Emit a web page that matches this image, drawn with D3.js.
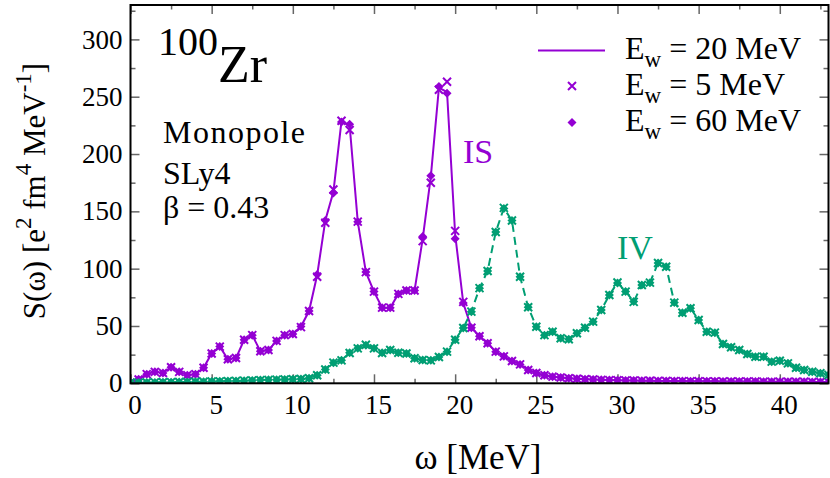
<!doctype html>
<html lang="en">
<head>
<meta charset="utf-8">
<title>100Zr monopole strength</title>
<script src="https://d3js.org/d3.v7.min.js"></script>
<style>
body { margin: 0; background: #fff; }
svg text { font-family: "Liberation Serif", "Times New Roman", serif; }
</style>
</head>
<body>
<svg width="830" height="478"></svg>
<script>
// energy grid (MeV), one sample every 0.5 MeV
var omega = d3.range(0, 43.01, 0.5);

// isoscalar strength, three smearing widths
var isEw20 = [0.5, 3.5, 8, 10, 9, 14, 10, 7, 8, 13.5,
  26, 32, 21, 22, 38, 42, 28, 29, 37, 42,
  43, 49.5, 63, 94.5, 142, 167, 229, 225, 141, 97,
  80, 66, 66, 78, 81, 81, 126, 180, 258, 254,
  130, 70, 48.5, 41, 35, 27.6, 23.5, 19.5, 16.5, 11.6,
  9, 7, 5.8, 5, 4.4, 4, 3.6, 3.3, 3, 2.8,
  2.6, 2.5, 2.4, 2.3, 2.2, 2.1, 2, 1.9, 1.9, 1.8,
  1.8, 1.7, 1.7, 1.6, 1.6, 1.5, 1.5, 1.5, 1.4, 1.4,
  1.4, 1.3, 1.3, 1.3, 1.2, 1.2, 1.2];
var isEw5 = [0.5, 3.3, 8, 10, 9, 14, 10, 7, 8, 13.5,
  26, 32, 21, 22, 38, 42, 28, 29, 37, 42,
  43, 49, 63, 93, 140, 169, 229, 221, 141, 97,
  80, 66, 66, 78, 81, 81, 124, 175, 256, 263,
  133, 71, 48.5, 41, 35, 27.6, 23.5, 19.5, 16.5, 11.6,
  9, 7, 5.8, 5, 4.4, 4, 3.6, 3.3, 3, 2.8,
  2.6, 2.5, 2.4, 2.3, 2.2, 2.1, 2, 1.9, 1.9, 1.8,
  1.8, 1.7, 1.7, 1.6, 1.6, 1.5, 1.5, 1.5, 1.4, 1.4,
  1.4, 1.3, 1.3, 1.3, 1.2, 1.2, 1.2];
var isEw60 = [0.5, 3.5, 8, 10, 9, 14, 10, 7, 8, 13.5,
  26, 32, 21, 22, 38, 42, 28, 29, 37, 42,
  43, 49.5, 63, 95, 142, 166, 228, 226, 141, 97,
  80, 66, 66, 78, 81, 81, 128, 181, 259, 253,
  126, 70, 48.5, 41, 35, 27.6, 23.5, 19.5, 16.5, 11.6,
  9, 7, 5.8, 5, 4.4, 4, 3.6, 3.3, 3, 2.8,
  2.6, 2.5, 2.4, 2.3, 2.2, 2.1, 2, 1.9, 1.9, 1.8,
  1.8, 1.7, 1.7, 1.6, 1.6, 1.5, 1.5, 1.5, 1.4, 1.4,
  1.4, 1.3, 1.3, 1.3, 1.2, 1.2, 1.2];

// isovector strength, three smearing widths
var ivEw20 = [0.5, 0.6, 0.7, 0.8, 0.9, 1, 1.1, 1.2, 1.3, 1.4,
  1.6, 1.7, 1.9, 2.1, 2.3, 2.5, 2.8, 3, 3.2, 3.3,
  3.5, 3.8, 4.4, 7, 12, 18, 20, 26.7, 30.5, 33.4,
  30.5, 26.7, 29, 26.7, 26, 21.8, 20.3, 20, 23, 27.6,
  38, 48.3, 62.5, 83, 98, 132, 152.7, 142, 93, 66.3,
  49.4, 42, 45, 39.3, 38.4, 43.6, 48.5, 53.8, 64, 77,
  87.8, 80, 71.2, 85.8, 87.8, 105, 101.7, 70.4, 61.6, 65.4,
  55.2, 45, 44.2, 34.3, 31.4, 29, 25.6, 23.2, 23.2, 18.9,
  19.7, 17.4, 13.6, 11.6, 10.1, 8.7, 7.2];
var ivEw5 = [0.5, 0.6, 0.7, 0.8, 0.9, 1, 1.1, 1.2, 1.3, 1.4,
  1.6, 1.7, 1.9, 2.1, 2.3, 2.5, 2.8, 3, 3.2, 3.3,
  3.5, 3.8, 4.4, 7, 12, 18, 20, 26.5, 30.5, 33.6,
  30.5, 26.5, 29, 26.7, 26, 21.8, 20.3, 20, 23, 27.6,
  38, 48.3, 62.5, 83, 98, 132, 153, 142, 93, 66.3,
  49.4, 42, 45, 39.3, 38.4, 43.6, 48.5, 53.8, 64, 77,
  88, 80, 71, 85.8, 87.8, 105, 101.7, 70.4, 61.6, 65.4,
  55.2, 45, 44.2, 34.3, 31.4, 29, 25.6, 23.2, 23.2, 18.9,
  19.7, 17.4, 13.6, 11.6, 10.1, 8.7, 7.2];
var ivEw60 = [0.5, 0.6, 0.7, 0.8, 0.9, 1, 1.1, 1.2, 1.3, 1.4,
  1.6, 1.7, 1.9, 2.1, 2.3, 2.5, 2.8, 3, 3.2, 3.3,
  3.5, 3.8, 4.4, 7, 12, 18, 20, 26.7, 30.5, 33.2,
  30.5, 26.7, 29, 26.7, 26, 21.8, 20.3, 20, 23, 27.6,
  38, 48.3, 62.5, 83, 98, 132, 152.4, 142, 93, 66.3,
  49.4, 42, 45, 39.3, 38.4, 43.6, 48.5, 53.8, 64, 77,
  87.6, 80, 71.4, 85.8, 87.8, 105, 101.7, 70.4, 61.6, 65.4,
  55.2, 45, 44.2, 34.3, 31.4, 29, 25.6, 23.2, 23.2, 18.9,
  19.7, 17.4, 13.6, 11.6, 10.1, 8.7, 7.2];

var xTicks = [0, 5, 10, 15, 20, 25, 30, 35, 40];
var xMinor = [2.5, 7.5, 12.5, 17.5, 22.5, 27.5, 32.5, 37.5, 42.5];
var yTicks = [0, 50, 100, 150, 200, 250, 300];
var yMinor = [25, 75, 125, 175, 225, 275, 325];
var legendLabels = ['20', '5', '60'];

var purple = '#9400d3', green = '#009e73';
var serif = '"Liberation Serif", "Times New Roman", serif';

var svg = d3.select('svg').style('font-family', serif);
var x = d3.scaleLinear().domain([0, 43]).range([130.5, 828.5]);
var y = d3.scaleLinear().domain([0, 330]).range([383.3, 5]);

svg.append('defs').append('clipPath').attr('id', 'clip')
  .append('rect').attr('x', 130.5).attr('y', 5).attr('width', 698).attr('height', 378.3);

// ticks (gnuplot style, inward and mirrored)
function tickAxis(axis, tr) {
  var g = svg.append('g').attr('transform', tr).call(axis)
    .attr('font-family', null).attr('font-size', null);
  g.select('.domain').remove();
  g.selectAll('.tick line').attr('stroke', '#666').attr('stroke-width', 1.5);
  g.selectAll('text').style('font-family', serif).attr('font-size', 27).attr('fill', '#000');
  return g;
}
var bx = tickAxis(d3.axisBottom(x).tickValues(xTicks).tickSize(-9).tickPadding(12), 'translate(0,383.3)');
bx.selectAll('text').attr('dx', 4);
tickAxis(d3.axisBottom(x).tickValues(xMinor).tickSize(-4.5).tickFormat(''), 'translate(0,383.3)');
tickAxis(d3.axisTop(x).tickValues(xTicks).tickSize(-9).tickFormat(''), 'translate(0,5)');
tickAxis(d3.axisTop(x).tickValues(xMinor).tickSize(-4.5).tickFormat(''), 'translate(0,5)');
tickAxis(d3.axisLeft(y).tickValues(yTicks).tickSize(-9).tickPadding(8), 'translate(130.5,0)');
tickAxis(d3.axisLeft(y).tickValues(yMinor).tickSize(-5).tickFormat(''), 'translate(130.5,0)');
tickAxis(d3.axisRight(y).tickValues(yTicks).tickSize(-9).tickFormat(''), 'translate(828.5,0)');
tickAxis(d3.axisRight(y).tickValues(yMinor).tickSize(-5).tickFormat(''), 'translate(828.5,0)');

var plot = svg.append('g').attr('clip-path', 'url(#clip)');

var crossPath = 'M-4,-4L4,4M4,-4L-4,4';
var diamondPath = 'M0,-4.5L4.5,0L0,4.5L-4.5,0Z';

function drawSet(line, cross, diamond, color, dash) {
  var pts = function(arr) { return arr.map(function(v, i) { return [omega[i], v]; }); };
  plot.append('path')
    .datum(pts(line))
    .attr('fill', 'none')
    .attr('stroke', color)
    .attr('stroke-width', 2)
    .attr('stroke-dasharray', dash)
    .attr('d', d3.line().x(function(d) { return x(d[0]); }).y(function(d) { return y(d[1]); }));
  plot.append('g').selectAll('path')
    .data(pts(cross)).enter().append('path')
    .attr('transform', function(d) { return 'translate(' + x(d[0]) + ',' + y(d[1]) + ')'; })
    .attr('d', crossPath)
    .attr('stroke', color).attr('stroke-width', 2).attr('fill', 'none');
  plot.append('g').selectAll('path')
    .data(pts(diamond)).enter().append('path')
    .attr('transform', function(d) { return 'translate(' + x(d[0]) + ',' + y(d[1]) + ')'; })
    .attr('d', diamondPath)
    .attr('fill', color);
}
drawSet(isEw20, isEw5, isEw60, purple, null);
drawSet(ivEw20, ivEw5, ivEw60, green, '8,5');

// frame
svg.append('rect')
  .attr('x', 130.5).attr('y', 5).attr('width', 698).attr('height', 378.3)
  .attr('fill', 'none').attr('stroke', '#000').attr('stroke-width', 2);

function label(xp, yp, size) {
  return svg.append('text').attr('x', xp).attr('y', yp)
    .style('font-family', serif).attr('font-size', size);
}

// axis titles
label(478, 469, 35).attr('text-anchor', 'middle').text('ω [MeV]');

var yl = svg.append('text').attr('transform', 'translate(45,191) rotate(-90)')
  .style('font-family', serif).attr('text-anchor', 'middle').attr('font-size', 31);
yl.append('tspan').text('S(ω) [e');
yl.append('tspan').attr('dy', -14).attr('font-size', 23).text('2');
yl.append('tspan').attr('dy', 14).text(' fm');
yl.append('tspan').attr('dy', -14).attr('font-size', 23).text('4');
yl.append('tspan').attr('dy', 14).text(' MeV');
yl.append('tspan').attr('dy', -14).attr('font-size', 23).text('-1');
yl.append('tspan').attr('dy', 14).text(']');

// nucleus and labels
var nuc = label(158, 82, 52);
nuc.append('tspan').attr('font-size', 40).attr('dy', -27).text('100');
nuc.append('tspan').attr('font-size', 52).attr('dy', 27).text('Zr');

label(163, 143, 32).attr('textLength', 142).attr('lengthAdjust', 'spacing').text('Monopole');
label(163, 184, 32).text('SLy4');
label(163, 218, 32).text('β = 0.43');

label(463, 163, 34).style('fill', purple).text('IS');
label(617, 259, 34).style('fill', green).text('IV');

// legend
var legY = [50.5, 86, 122.5];
var lg = svg.append('g');
lg.append('line').attr('x1', 538).attr('x2', 605).attr('y1', legY[0]).attr('y2', legY[0])
  .attr('stroke', purple).attr('stroke-width', 2);
lg.append('path').attr('transform', 'translate(572,' + legY[1] + ')').attr('d', crossPath)
  .attr('stroke', purple).attr('stroke-width', 2).attr('fill', 'none');
lg.append('path').attr('transform', 'translate(572,' + legY[2] + ')').attr('d', diamondPath)
  .attr('fill', purple);
legendLabels.forEach(function(v, i) {
  var t = label(625, legY[i] + 8.5, 32);
  t.append('tspan').text('E');
  t.append('tspan').attr('font-size', 23).attr('dy', 8).text('w');
  t.append('tspan').attr('dy', -8).text(' = ' + v + ' MeV');
});
</script>
</body>
</html>
